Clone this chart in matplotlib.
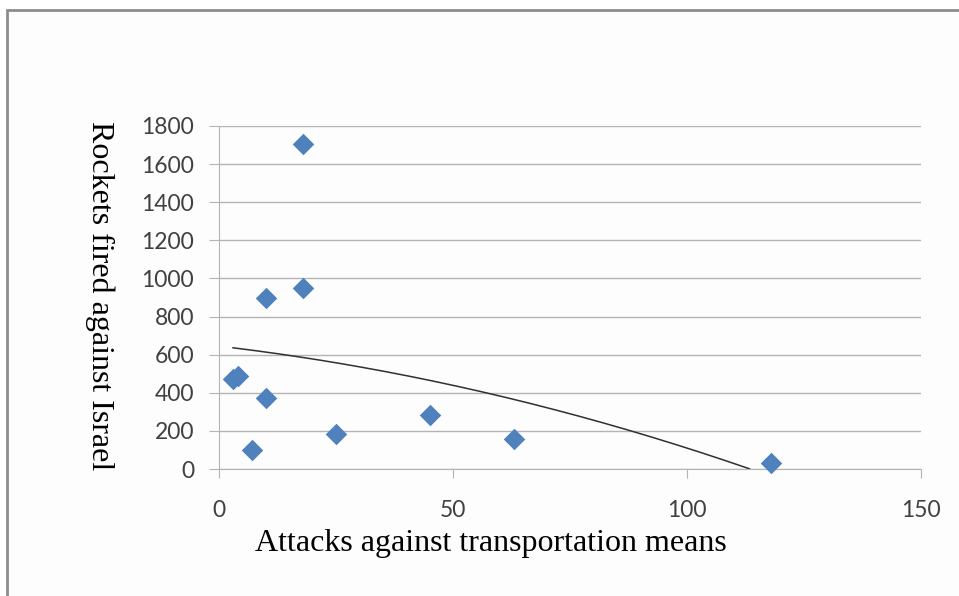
import numpy as np
import matplotlib.pyplot as plt
from matplotlib.patches import Rectangle

# attacks against transportation means vs rockets fired
attacks = [3, 4, 7, 10, 10, 18, 18, 25, 45, 63, 118]
rockets = [472, 488, 100, 372, 897, 950, 1705, 184, 283, 157, 31]
x_ticks = [0, 50, 100, 150]
y_ticks = [0, 200, 400, 600, 800, 1000, 1200, 1400, 1600, 1800]

fig = plt.figure(figsize=(9.59, 5.96), dpi=100)
fig.patch.set_facecolor('white')

# outer chart frame
fig.patches.append(Rectangle((7 / 959, -0.05), 1.1, 1 - 10 / 596 + 0.05,
                             transform=fig.transFigure, facecolor='#fdfdfd',
                             edgecolor='#8c8c8c', linewidth=2, zorder=-5))

ax = fig.add_axes([219 / 959, 1 - 469 / 596, (921 - 219) / 959, (469 - 126) / 596])
ax.set_zorder(2)
ax.set_facecolor('none')

ax.scatter(attacks, rockets, marker='D', s=120, color='#4f81bd', zorder=3,
           linewidths=0, clip_on=False)

# polynomial trend line (order 2)
coef = np.polyfit(attacks, rockets, 2)
xt = np.linspace(min(attacks), max(attacks), 200)
yt = np.polyval(coef, xt)
keep = yt >= 0
ax.plot(xt[keep], yt[keep], color='#303030', linewidth=1.1, zorder=2)

ax.set_xlim(0, 150)
ax.set_ylim(0, 1800)
ax.set_xticks(x_ticks)
ax.set_yticks(y_ticks)
ax.grid(axis='y', color='#b4b4b4', linewidth=1)
ax.set_axisbelow(True)
for s in ['top', 'right']:
    ax.spines[s].set_visible(False)
for s in ['left', 'bottom']:
    ax.spines[s].set_color('#b4b4b4')
ax.tick_params(axis='x', length=6.5, color='#b4b4b4', pad=16, labelsize=16.5,
               labelcolor='#404040')
ax.tick_params(axis='y', length=7, color='#b4b4b4', pad=11, labelsize=16.5,
               labelcolor='#404040')
for lab in ax.get_xticklabels() + ax.get_yticklabels():
    lab.set_family('Lato')

fig.text(100 / 959, 1 - 296 / 596, 'Rockets fired against Israel', rotation=270,
         ha='center', va='center', family='Liberation Serif', fontsize=23,
         color='black')
fig.text(491 / 959, 1 - 543 / 596, 'Attacks against transportation means',
         ha='center', va='center', family='Liberation Serif', fontsize=23,
         color='black')

fig.savefig('out.png', dpi=100)
